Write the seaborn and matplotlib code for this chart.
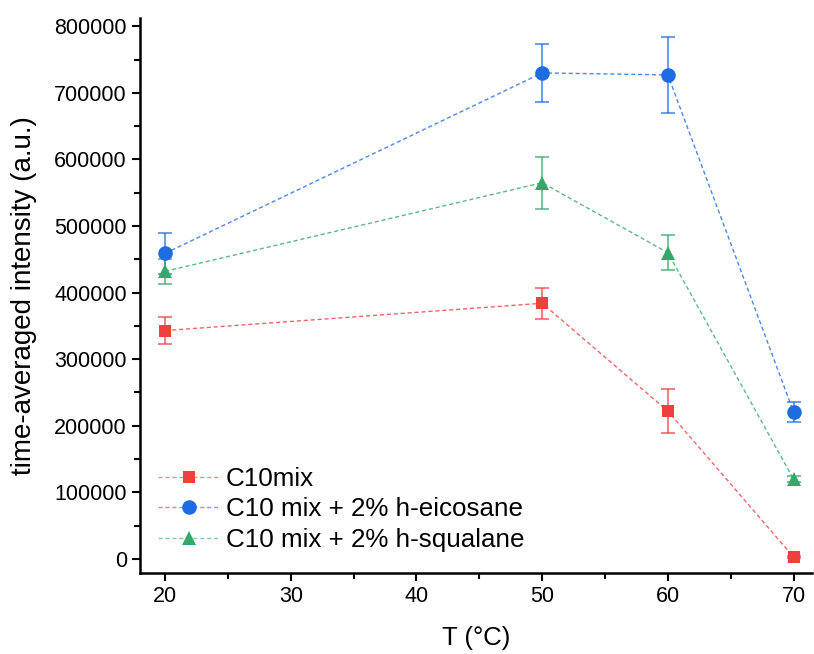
import numpy as np
import pandas as pd
import seaborn as sns
import matplotlib
matplotlib.use("Agg")
import matplotlib.pyplot as plt
from matplotlib.lines import Line2D
from matplotlib.ticker import MultipleLocator
from matplotlib.colors import to_rgba

temps = [20, 50, 60, 70]
c10mix = [343000, 384000, 222000, 3000]
c10mix_err = [20000, 23000, 33000, 2000]
eicosane = [459000, 730000, 727000, 221000]
eicosane_err = [31000, 43000, 57000, 15000]
squalane = [432000, 565000, 460000, 120000]
squalane_err = [19000, 39000, 26000, 4000]

labels = ["C10mix", "C10 mix + 2% h-eicosane", "C10 mix + 2% h-squalane"]
colors = ["#EF4040", "#1D6CE2", "#34A86A"]
markers = ["s", "o", "^"]
msizes = [9, 10.5, 10.5]

sns.set_style("ticks")
plt.rcParams['font.family'] = ['Liberation Sans', 'DejaVu Sans']
plt.rcParams['text.color'] = 'black'
plt.rcParams['axes.labelcolor'] = 'black'
plt.rcParams['xtick.color'] = 'black'
plt.rcParams['ytick.color'] = 'black'

fig = plt.figure(figsize=(8.14, 6.54), dpi=100)
ax = fig.add_axes([0.172, 0.124, 0.826, 0.848])

series = [(c10mix, c10mix_err), (eicosane, eicosane_err), (squalane, squalane_err)]
handles = []
for (vals, errs), lab, col, mk, ms in zip(series, labels, colors, markers, msizes):
    df = pd.DataFrame({"T": temps, "I": vals})
    lc = to_rgba(col, 0.8)
    ax.errorbar(temps, vals, yerr=errs, fmt='none', ecolor=col, alpha=0.65,
                elinewidth=1.5, capsize=5, capthick=1.5, zorder=2)
    sns.lineplot(data=df, x="T", y="I", ax=ax, color=lc, linestyle=(0, (3, 2)),
                 linewidth=1.0, marker=mk, markersize=ms, markeredgewidth=0,
                 markerfacecolor=col, zorder=3)
    handles.append(Line2D([0], [0], color=to_rgba(col, 0.6), linestyle=(0, (3, 2)),
                          linewidth=1.0, marker=mk, markersize=ms, markeredgewidth=0,
                          markerfacecolor=col))

ax.set_xlim(18.0, 71.5)
ax.set_ylim(-21000, 812000)
ax.xaxis.set_major_locator(MultipleLocator(10))
ax.xaxis.set_minor_locator(MultipleLocator(5))
ax.yaxis.set_major_locator(MultipleLocator(100000))
ax.yaxis.set_minor_locator(MultipleLocator(50000))
ax.tick_params(which='major', direction='out', length=6, width=1.5, labelsize=15.5,
               colors='black')
ax.tick_params(which='minor', direction='out', length=4, width=1.5, colors='black')
for s in ['left', 'bottom']:
    ax.spines[s].set_linewidth(1.8)
    ax.spines[s].set_color('black')
sns.despine(ax=ax)

ax.set_xlabel("T (°C)", fontsize=18.5)
ax.set_ylabel("time-averaged intensity (a.u.)", fontsize=20)
ax.xaxis.set_label_coords(0.5, -0.095)
ax.yaxis.set_label_coords(-0.153, 0.5)

leg = ax.legend(handles, labels, loc='lower left', bbox_to_anchor=(0.0, 0.005),
                frameon=False, fontsize=18.7, handlelength=2.4, handletextpad=0.2,
                labelspacing=0.25, borderaxespad=0.3)

fig.savefig("out.png", dpi=100)
